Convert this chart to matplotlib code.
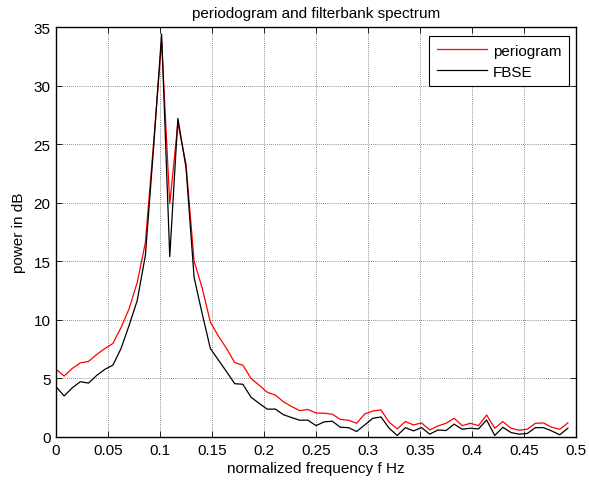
import numpy as np
import matplotlib
matplotlib.use("Agg")
import matplotlib.pyplot as plt

# spectrum estimates at k/128, k = 0..63
periodogram = [5.8, 5.2, 5.85, 6.33, 6.45, 7.04, 7.55, 7.98, 9.34, 10.95,
               13.2, 16.6, 25.0, 33.8, 19.9, 26.8, 23.3, 15.0, 12.7, 9.8,
               8.6, 7.55, 6.35, 6.13, 5.0, 4.43, 3.82, 3.58, 3.0, 2.6,
               2.25, 2.35, 2.05, 2.03, 1.95, 1.5, 1.43, 1.17, 1.97, 2.22,
               2.31, 1.26, 0.69, 1.32, 1.03, 1.2, 0.6, 0.94, 1.17, 1.6,
               0.97, 1.17, 0.97, 1.88, 0.75, 1.32, 0.75, 0.58, 0.66, 1.17,
               1.2, 0.83, 0.66, 1.2]
fbse = [4.3, 3.5, 4.2, 4.72, 4.6, 5.25, 5.77, 6.13, 7.55, 9.53,
        11.66, 15.5, 24.6, 34.4, 15.4, 27.2, 23.0, 13.6, 10.5, 7.55,
        6.56, 5.57, 4.55, 4.5, 3.4, 2.87, 2.38, 2.38, 1.9, 1.66,
        1.43, 1.44, 0.97, 1.29, 1.35, 0.83, 0.8, 0.47, 1.03, 1.6,
        1.71, 0.75, 0.13, 0.8, 0.52, 0.8, 0.24, 0.6, 0.55, 1.1,
        0.66, 0.75, 0.69, 1.45, 0.13, 0.83, 0.38, 0.24, 0.3, 0.8,
        0.8, 0.52, 0.19, 0.75]
freq = np.arange(len(periodogram)) / 128.0

x_ticks = [0, 0.05, 0.1, 0.15, 0.2, 0.25, 0.3, 0.35, 0.4, 0.45, 0.5]
x_labels = ["0", "0.05", "0.1", "0.15", "0.2", "0.25", "0.3", "0.35", "0.4", "0.45", "0.5"]
y_ticks = [0, 5, 10, 15, 20, 25, 30, 35]

plt.rcParams["font.family"] = ["Liberation Sans", "DejaVu Sans"]
plt.rcParams["font.size"] = 11

fig = plt.figure(figsize=(5.89, 4.85), dpi=100)
ax = fig.add_axes([56 / 589, 47 / 485, 520 / 589, 410 / 485])

ax.plot(freq, periodogram, color="#ff0000", lw=0.9, label="periogram")
ax.plot(freq, fbse, color="black", lw=0.9, label="FBSE")

ax.set_xlim(0, 0.5)
ax.set_ylim(0, 35)
ax.set_xticks(x_ticks)
ax.set_xticklabels(x_labels)
ax.set_yticks(y_ticks)
ax.tick_params(direction="in", top=True, right=True, length=4, width=0.6, labelsize=11, pad=4)
ax.grid(True, linestyle=(0, (1, 1.5)), color="#666666", linewidth=0.6)
for sp in ax.spines.values():
    sp.set_linewidth(1.0)

ax.set_title("periodogram and filterbank spectrum", fontsize=11, pad=7)
ax.set_xlabel("normalized frequency f Hz", fontsize=11, labelpad=3)
ax.set_ylabel("power in dB", fontsize=11, labelpad=5)

leg = ax.legend(loc="upper right", bbox_to_anchor=(0.9865, 0.978), borderaxespad=0,
                fancybox=False, framealpha=1, edgecolor="black", fontsize=11,
                handlelength=3.3, handletextpad=0.35, borderpad=0.5, labelspacing=0.45)
leg.get_frame().set_linewidth(0.8)

fig.savefig("out.png", dpi=100)
